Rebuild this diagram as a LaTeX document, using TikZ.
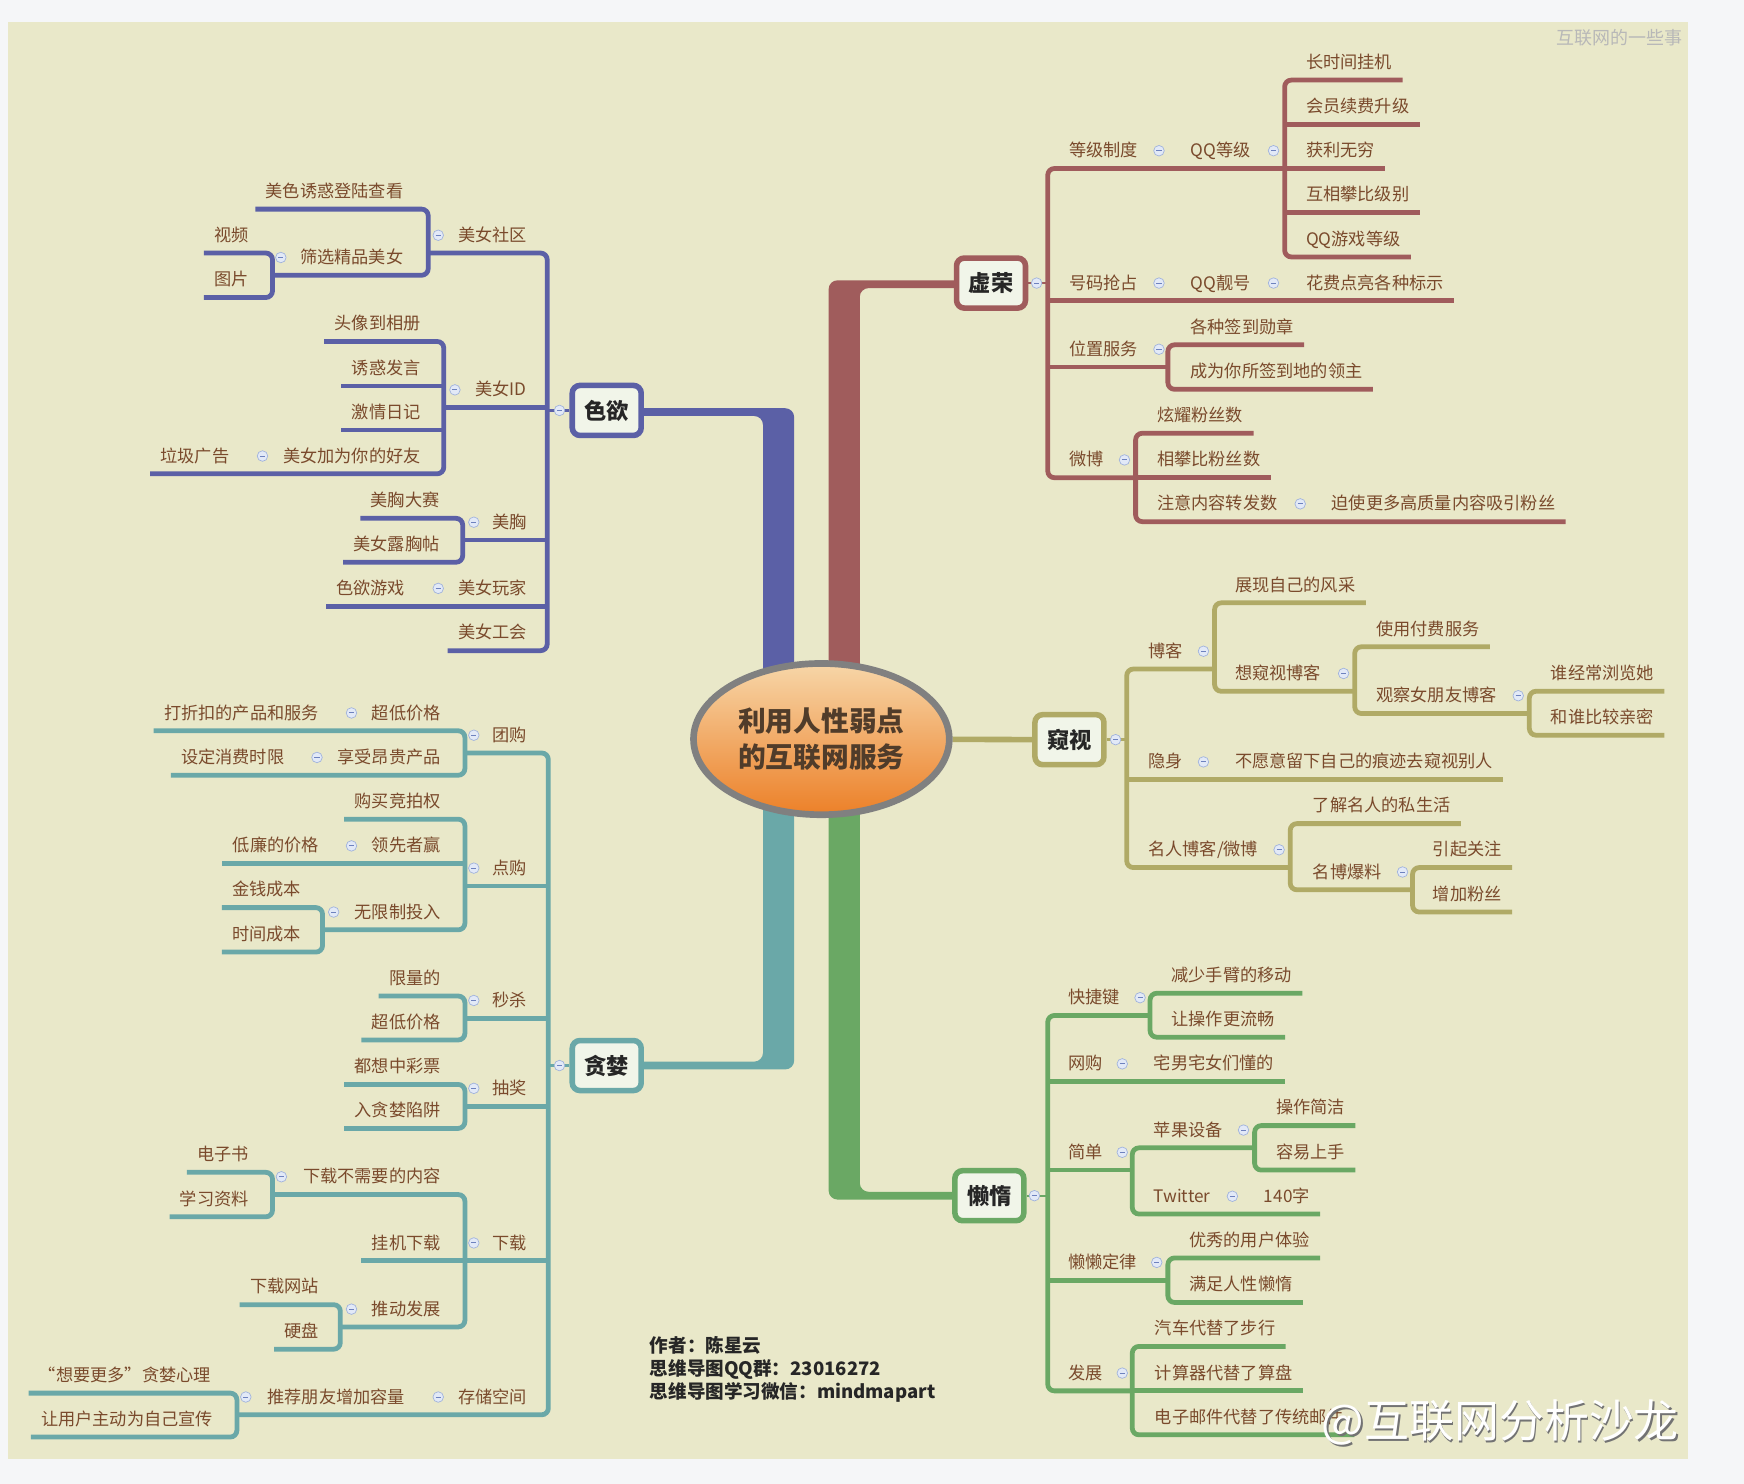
\documentclass[tikz,border=0pt]{standalone}
\usepackage{fontspec}
\setmainfont{Noto Sans CJK SC}
\usetikzlibrary{calc,shapes.geometric}
\definecolor{bgout}{RGB}{245,246,248}
\definecolor{panel}{RGB}{233,232,201}
\definecolor{cblue}{RGB}{91,96,166}
\definecolor{cred}{RGB}{160,92,92}
\definecolor{colive}{RGB}{176,170,102}
\definecolor{cteal}{RGB}{106,168,168}
\definecolor{cgreen}{RGB}{106,168,100}
\definecolor{txt}{RGB}{122,74,44}
\definecolor{boxf}{RGB}{241,245,233}
\definecolor{mcf}{RGB}{226,233,247}
\definecolor{mcd}{RGB}{160,178,220}
\definecolor{mcmc}{RGB}{110,130,190}
\definecolor{rootd}{RGB}{128,128,128}
\definecolor{roottxt}{RGB}{80,60,42}
\pgfdeclarelayer{back}
\pgfdeclarelayer{bg}
\pgfsetlayers{back,bg,main}
\newcommand\rtxt[4]{\node[lbl,anchor=west] (#1) at (#2,#3) {#4}; \coordinate (#1-u) at ($(#1.east)+(9,16)$);}
\newcommand\ltxt[4]{\node[lbl,anchor=east] (#1) at (#2,#3) {#4}; \coordinate (#1-u) at ($(#1.west)+(-9,16)$);}
\newcommand\mcirc[2]{\filldraw[mc] (#1,#2) circle (0.095cm); \draw[mcm] ({#1-2.3},#2) -- ({#1+2.3},#2);}
\begin{document}
\begin{tikzpicture}[x=0.02cm,y=-0.02cm,
 lbl/.style={font=\fontsize{8.8}{10}\selectfont, text=txt, inner sep=0pt, text height=7.5pt, text depth=1.3pt},
 br/.style={line width=0.086cm, rounded corners=0.12cm},
 topic/.style={draw=#1, line width=0.1cm, rounded corners=0.14cm, fill=boxf, minimum width=1.24cm, minimum height=0.9cm, inner sep=0pt, font=\fontsize{11.4}{13}\selectfont\bfseries, text=black!85},
 mc/.style={fill=mcf, draw=mcd, line width=0.35pt},
 mcm/.style={draw=mcmc, line width=0.5pt},
 trunk/.style={rounded corners=0.16cm},
 conn/.style={line width=1.2pt}]
\useasboundingbox (0,0) rectangle (1568,1334.2);
\begin{pgfonlayer}{back}
\fill[bgout] (0,0) rectangle (1568,1334.2);
\fill[panel] (7,20) rectangle (1518,1312);
\end{pgfonlayer}

% ---------- topic boxes and root ----------
\node[ellipse, draw=rootd, line width=0.12cm,
  top color={rgb,255:red,247;green,214;blue,168},
  bottom color={rgb,255:red,236;green,128;blue,40},
  minimum width=4.6cm, minimum height=2.72cm, inner sep=0pt, align=center,
  font=\fontsize{14.2}{18.8}\selectfont\bfseries, text=roottxt] (root) at (738.5,664.5) {利用人性弱点\\的互联网服务};
\node[topic=cblue] (se) at (545.5,369) {色欲};
\node[topic=cred] (xu) at (891,254.5) {虚荣};
\node[topic=colive] (kui) at (961.5,665) {窥视};
\node[topic=cteal] (tan) at (545.5,958) {贪婪};
\node[topic=cgreen] (lan) at (889.5,1075) {懒惰};

% ---------- 色欲 ----------
\ltxt{b1}{474}{211.5}{美女社区}
\ltxt{b1a}{363}{172}{美色诱惑登陆查看}
\ltxt{b1b}{363}{231.5}{筛选精品美女}
\ltxt{b1b1}{224}{211.5}{视频}
\ltxt{b1b2}{224}{251.5}{图片}
\ltxt{b2}{474}{350.5}{美女ID}
\ltxt{b2a}{378.5}{291}{头像到相册}
\ltxt{b2b}{378.5}{331}{诱惑发言}
\ltxt{b2c}{378.5}{370.5}{激情日记}
\ltxt{b2d}{378.5}{410}{美女加为你的好友}
\ltxt{b2d1}{206.5}{410}{垃圾广告}
\ltxt{b3}{474}{469.5}{美胸}
\ltxt{b3a}{395.5}{450}{美胸大赛}
\ltxt{b3b}{395.5}{489.5}{美女露胸帖}
\ltxt{b4}{474}{529}{美女玩家}
\ltxt{b4a}{364.5}{529}{色欲游戏}
\ltxt{b5}{474}{569}{美女工会}
\mcirc{394}{211.5}\mcirc{252.5}{231.5}\mcirc{409}{350.5}\mcirc{236}{410}
\mcirc{426}{469.5}\mcirc{394}{529}\mcirc{503}{369}

% ---------- 虚荣 ----------
\rtxt{r1}{961}{135.5}{等级制度}
\rtxt{r1a}{1070}{135.5}{QQ等级}
\rtxt{r1a1}{1174}{56}{长时间挂机}
\rtxt{r1a2}{1174}{96}{会员续费升级}
\rtxt{r1a3}{1174}{135.5}{获利无穷}
\rtxt{r1a4}{1174}{175}{互相攀比级别}
\rtxt{r1a5}{1174}{215}{QQ游戏等级}
\rtxt{r2}{961}{254.5}{号码抢占}
\rtxt{r2a}{1070}{254.5}{QQ靓号}
\rtxt{r2b}{1174}{254.5}{花费点亮各种标示}
\rtxt{r3}{961}{314}{位置服务}
\rtxt{r3a}{1070}{294}{各种签到勋章}
\rtxt{r3b}{1070}{334}{成为你所签到地的领主}
\rtxt{r4}{961}{413.5}{微博}
\rtxt{r4a}{1040}{373.5}{炫耀粉丝数}
\rtxt{r4b}{1040}{413.5}{相攀比粉丝数}
\rtxt{r4c}{1040}{453}{注意内容转发数}
\rtxt{r4d}{1197}{453}{迫使更多高质量内容吸引粉丝}
\mcirc{1042}{135.5}\mcirc{1145}{135.5}\mcirc{1042}{254.5}\mcirc{1145}{254.5}
\mcirc{1042}{314}\mcirc{1011}{413.5}\mcirc{1169}{453}\mcirc{932}{254.5}

% ---------- 窥视 ----------
\rtxt{o1}{1032}{585.5}{博客}
\rtxt{o1a}{1110}{526}{展现自己的风采}
\rtxt{o1b}{1110}{605.5}{想窥视博客}
\rtxt{o1b1}{1237}{565.5}{使用付费服务}
\rtxt{o1b2}{1237}{625.5}{观察女朋友博客}
\rtxt{o1b2a}{1394}{605.5}{谁经常浏览她}
\rtxt{o1b2b}{1394}{645}{和谁比较亲密}
\rtxt{o2}{1032}{685}{隐身}
\rtxt{o2a}{1110}{685}{不愿意留下自己的痕迹去窥视别人}
\rtxt{o3}{1032}{764}{名人博客/微博}
\rtxt{o3a}{1180}{724.5}{了解名人的私生活}
\rtxt{o3b}{1180}{784}{名博爆料}
\rtxt{o3b1}{1288}{764}{引起关注}
\rtxt{o3b2}{1288}{804}{增加粉丝}
\mcirc{1082}{585.5}\mcirc{1208}{605.5}\mcirc{1365}{625.5}\mcirc{1082}{685}
\mcirc{1150}{764}\mcirc{1261}{784}\mcirc{1003}{665}

% ---------- 贪婪 ----------
\ltxt{t1}{474}{661}{团购}
\ltxt{t1a}{396.5}{641}{超低价格}
\ltxt{t1a1}{287}{641}{打折扣的产品和服务}
\ltxt{t1b}{396.5}{681}{享受昂贵产品}
\ltxt{t1b1}{256}{681}{设定消费时限}
\ltxt{t2}{474}{780.5}{点购}
\ltxt{t2a}{396.5}{720.5}{购买竞拍权}
\ltxt{t2b}{396.5}{760.5}{领先者赢}
\ltxt{t2b1}{287}{760.5}{低廉的价格}
\ltxt{t2c}{396.5}{820}{无限制投入}
\ltxt{t2c1}{271}{800}{金钱成本}
\ltxt{t2c2}{271}{840}{时间成本}
\ltxt{t3}{474}{899.5}{秒杀}
\ltxt{t3a}{396.5}{879.5}{限量的}
\ltxt{t3b}{396.5}{919}{超低价格}
\ltxt{t4}{474}{978.5}{抽奖}
\ltxt{t4a}{396.5}{959}{都想中彩票}
\ltxt{t4b}{396.5}{998.5}{入贪婪陷阱}
\ltxt{t5}{474}{1117.5}{下载}
\ltxt{t5a}{396.5}{1058}{下载不需要的内容}
\ltxt{t5a1}{224}{1038}{电子书}
\ltxt{t5a2}{224}{1078}{学习资料}
\ltxt{t5b}{396.5}{1117.5}{挂机下载}
\ltxt{t5c}{396.5}{1177}{推动发展}
\ltxt{t5c1}{287}{1157}{下载网站}
\ltxt{t5c2}{287}{1197}{硬盘}
\ltxt{t6}{474}{1256}{存储空间}
\ltxt{t6a}{364.5}{1256}{推荐朋友增加容量}
\ltxt{t6a1}{190}{1236.5}{“想要更多”贪婪心理}
\ltxt{t6a2}{192}{1276}{让用户主动为自己宣传}
\mcirc{426}{661}\mcirc{316}{641}\mcirc{285}{681}\mcirc{426}{780.5}\mcirc{316}{760.5}
\mcirc{300}{820}\mcirc{426}{899.5}\mcirc{426}{978.5}\mcirc{426}{1117.5}\mcirc{253}{1058}
\mcirc{316}{1177}\mcirc{394}{1256}\mcirc{221}{1256}\mcirc{503}{958}

% ---------- 懒惰 ----------
\rtxt{g1}{960}{897}{快捷键}
\rtxt{g1a}{1053}{877}{减少手臂的移动}
\rtxt{g1b}{1053}{916.5}{让操作更流畅}
\rtxt{g2}{960}{956.5}{网购}
\rtxt{g2a}{1037}{956.5}{宅男宅女们懂的}
\rtxt{g3}{960}{1036}{简单}
\rtxt{g3a}{1037}{1016}{苹果设备}
\rtxt{g3a1}{1147}{996}{操作简洁}
\rtxt{g3a2}{1147}{1036}{容易上手}
\rtxt{g3b}{1037}{1075.5}{Twitter}
\rtxt{g3b1}{1136}{1075.5}{140字}
\rtxt{g4}{960}{1135}{懒懒定律}
\rtxt{g4a}{1069}{1115}{优秀的用户体验}
\rtxt{g4b}{1069}{1155}{满足人性懒惰}
\rtxt{g5}{960}{1234.5}{发展}
\rtxt{g5a}{1038}{1194.5}{汽车代替了步行}
\rtxt{g5b}{1038}{1234.5}{计算器代替了算盘}
\rtxt{g5c}{1038}{1274}{电子邮件代替了传统邮件}
\mcirc{1025}{897}\mcirc{1009}{956.5}\mcirc{1009}{1036}\mcirc{1118}{1016}
\mcirc{1108}{1075.5}\mcirc{1040}{1135}\mcirc{1009}{1234.5}\mcirc{930}{1075}

% ---------- connectors ----------
\begin{pgfonlayer}{bg}
% trunks
\fill[cblue,trunk] (545,367) -- (714,367) -- (714,664) -- (686,664) -- (686,374) -- (545,374) -- cycle;
\fill[cred,trunk] (891,252) -- (745,252) -- (745,664) -- (773,664) -- (773,259) -- (891,259) -- cycle;
\fill[cteal,trunk] (545,961.5) -- (714,961.5) -- (714,664) -- (686,664) -- (686,954.5) -- (545,954.5) -- cycle;
\fill[cgreen,trunk] (889,1078.5) -- (745,1078.5) -- (745,664) -- (773,664) -- (773,1071.5) -- (889,1071.5) -- cycle;
\draw[colive,line width=0.1cm] (root) -- (kui);
% box links
\draw[cblue,conn] (se.west) -- (492,369);
\draw[cred,conn] (xu.east) -- (942,254.5);
\draw[colive,conn] (kui.east) -- (1013,665);
\draw[cteal,conn] (tan.west) -- (493,958);
\draw[cgreen,conn] (lan.east) -- (942,1075);
% 色欲
\draw[br,cblue] (385,227.5) -- (492,227.5) -- (492,585) -- (b5-u);
\draw[br,cblue] (b1a-u) -- (385,188) -- (385,247.5) -- (245,247.5);
\draw[br,cblue] (b1b1-u) -- (245,227.5) -- (245,267.5) -- (b1b2-u);
\draw[br,cblue] (492,366.5) -- (399,366.5);
\draw[br,cblue] (b2a-u) -- (399,307) -- (399,426) -- (b2d1-u);
\draw[br,cblue] (399,347) -- (b2b-u);
\draw[br,cblue] (399,386.5) -- (b2c-u);
\draw[br,cblue] (492,485.5) -- (416,485.5);
\draw[br,cblue] (b3a-u) -- (416,466) -- (416,505.5) -- (b3b-u);
\draw[br,cblue] (492,545) -- (b4a-u);
% 虚荣
\draw[br,cred] (1155,151.5) -- (942,151.5) -- (942,429.5) -- (1021,429.5);
\draw[br,cred] (r1a1-u) -- (1155,72) -- (1155,231) -- (r1a5-u);
\draw[br,cred] (1155,112) -- (r1a2-u);
\draw[br,cred] (1155,151.5) -- (r1a3-u);
\draw[br,cred] (1155,191) -- (r1a4-u);
\draw[br,cred] (942,270.5) -- (r2b-u);
\draw[br,cred] (942,330) -- (1050,330);
\draw[br,cred] (r3a-u) -- (1050,310) -- (1050,350) -- (r3b-u);
\draw[br,cred] (r4a-u) -- (1021,389.5) -- (1021,469) -- (r4d-u);
\draw[br,cred] (1021,429.5) -- (r4b-u);
% 窥视
\draw[br,colive] (1092,601.5) -- (1013,601.5) -- (1013,780) -- (1160,780);
\draw[br,colive] (o1a-u) -- (1092,542) -- (1092,621.5) -- (1218,621.5);
\draw[br,colive] (o1b1-u) -- (1218,581.5) -- (1218,641.5) -- (1375,641.5);
\draw[br,colive] (o1b2a-u) -- (1375,621.5) -- (1375,661) -- (o1b2b-u);
\draw[br,colive] (1013,701) -- (o2a-u);
\draw[br,colive] (o3a-u) -- (1160,740.5) -- (1160,800) -- (1270,800);
\draw[br,colive] (o3b1-u) -- (1270,780) -- (1270,820) -- (o3b2-u);
% 贪婪
\draw[br,cteal] (418,677) -- (493,677) -- (493,1272) -- (213,1272);
\draw[br,cteal] (t1a1-u) -- (418,657) -- (418,697) -- (t1b1-u);
\draw[br,cteal] (493,796.5) -- (418,796.5);
\draw[br,cteal] (t2a-u) -- (418,736.5) -- (418,836) -- (290,836);
\draw[br,cteal] (418,776.5) -- (t2b1-u);
\draw[br,cteal] (t2c1-u) -- (290,816) -- (290,856) -- (t2c2-u);
\draw[br,cteal] (493,915.5) -- (418,915.5);
\draw[br,cteal] (t3a-u) -- (418,895.5) -- (418,935) -- (t3b-u);
\draw[br,cteal] (493,994.5) -- (418,994.5);
\draw[br,cteal] (t4a-u) -- (418,975) -- (418,1014.5) -- (t4b-u);
\draw[br,cteal] (245,1074) -- (418,1074) -- (418,1193) -- (306,1193);
\draw[br,cteal] (493,1133.5) -- (t5b-u);
\draw[br,cteal] (t5a1-u) -- (245,1054) -- (245,1094) -- (t5a2-u);
\draw[br,cteal] (t5c1-u) -- (306,1173) -- (306,1213) -- (t5c2-u);
\draw[br,cteal] (t6a1-u) -- (213,1252.5) -- (213,1292) -- (t6a2-u);
% 懒惰
\draw[br,cgreen] (1034,913) -- (942,913) -- (942,1250.5) -- (1018,1250.5);
\draw[br,cgreen] (g1a-u) -- (1034,893) -- (1034,932.5) -- (g1b-u);
\draw[br,cgreen] (942,972.5) -- (g2a-u);
\draw[br,cgreen] (942,1052) -- (1018,1052);
\draw[br,cgreen] (1128,1032) -- (1018,1032) -- (1018,1091.5) -- (g3b1-u);
\draw[br,cgreen] (g3a1-u) -- (1128,1012) -- (1128,1052) -- (g3a2-u);
\draw[br,cgreen] (942,1151) -- (1050,1151);
\draw[br,cgreen] (g4a-u) -- (1050,1131) -- (1050,1171) -- (g4b-u);
\draw[br,cgreen] (g5a-u) -- (1018,1210.5) -- (1018,1290) -- (g5c-u);
\draw[br,cgreen] (1018,1250.5) -- (g5b-u);
\end{pgfonlayer}

% ---------- author & watermarks ----------
\node[anchor=west, align=left, inner sep=0pt, font=\fontsize{9.5}{11.9}\selectfont\bfseries, text=black!85] (author) at (584,1231)
  {作者：陈星云\\思维导图QQ群：23016272\\思维导图学习微信：mindmapart};
\node[anchor=east, inner sep=0pt, font=\fontsize{9.2}{10}\selectfont, text=black!28] (wmtop) at (1513,34) {互联网的一些事};
\node[anchor=west, inner sep=0pt, font=\fontsize{23}{26}\selectfont, text=white] (wm) at (1188,1280)
  {\makebox[0pt][l]{\raisebox{-0.9pt}{\hspace{0.9pt}\textcolor{black!55}{@互联网分析沙龙}}}@互联网分析沙龙};
\end{tikzpicture}
\end{document}
